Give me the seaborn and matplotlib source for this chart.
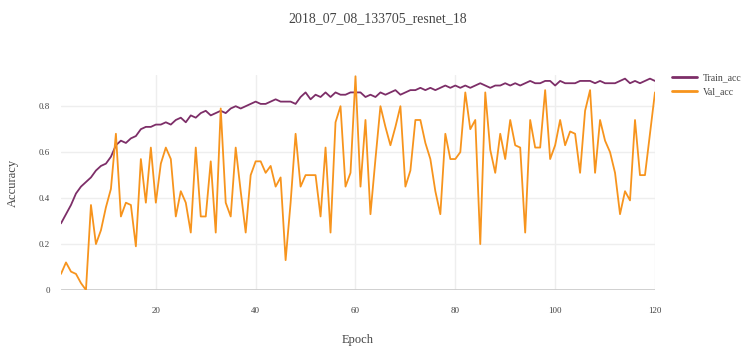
import numpy as np
import pandas as pd
import matplotlib
matplotlib.use("Agg")
import matplotlib.pyplot as plt
import seaborn as sns
from matplotlib.lines import Line2D

epochs = list(range(1, 121))

train_acc = [
    0.29, 0.33, 0.37, 0.42, 0.45, 0.47, 0.49, 0.52, 0.54, 0.55,
    0.58, 0.63, 0.65, 0.64, 0.66, 0.67, 0.70, 0.71, 0.71, 0.72,
    0.72, 0.73, 0.72, 0.74, 0.75, 0.73, 0.76, 0.75, 0.77, 0.78,
    0.76, 0.77, 0.78, 0.77, 0.79, 0.80, 0.79, 0.80, 0.81, 0.82,
    0.81, 0.81, 0.82, 0.83, 0.82, 0.82, 0.82, 0.81, 0.84, 0.86,
    0.83, 0.85, 0.84, 0.86, 0.84, 0.86, 0.85, 0.85, 0.86, 0.86,
    0.86, 0.84, 0.85, 0.84, 0.86, 0.85, 0.86, 0.87, 0.85, 0.86,
    0.87, 0.87, 0.88, 0.87, 0.88, 0.87, 0.88, 0.89, 0.88, 0.89,
    0.88, 0.89, 0.88, 0.89, 0.90, 0.89, 0.88, 0.89, 0.89, 0.90,
    0.89, 0.90, 0.89, 0.90, 0.91, 0.90, 0.90, 0.91, 0.91, 0.89,
    0.91, 0.90, 0.90, 0.90, 0.91, 0.91, 0.91, 0.90, 0.91, 0.90,
    0.90, 0.90, 0.91, 0.92, 0.90, 0.91, 0.90, 0.91, 0.92, 0.91,
]

val_acc = [
    0.07, 0.12, 0.08, 0.07, 0.03, 0.00, 0.37, 0.20, 0.26, 0.36,
    0.44, 0.68, 0.32, 0.38, 0.37, 0.19, 0.57, 0.38, 0.62, 0.38,
    0.55, 0.62, 0.57, 0.32, 0.43, 0.38, 0.25, 0.62, 0.32, 0.32,
    0.56, 0.25, 0.79, 0.38, 0.32, 0.62, 0.43, 0.25, 0.50, 0.56,
    0.56, 0.51, 0.54, 0.45, 0.49, 0.13, 0.38, 0.68, 0.45, 0.50,
    0.50, 0.50, 0.32, 0.62, 0.25, 0.73, 0.80, 0.45, 0.51, 0.93,
    0.45, 0.74, 0.33, 0.57, 0.80, 0.71, 0.63, 0.71, 0.80, 0.45,
    0.52, 0.74, 0.74, 0.64, 0.57, 0.43, 0.33, 0.68, 0.57, 0.57,
    0.60, 0.86, 0.70, 0.74, 0.20, 0.86, 0.61, 0.51, 0.68, 0.57,
    0.74, 0.63, 0.62, 0.25, 0.74, 0.62, 0.62, 0.87, 0.57, 0.63,
    0.74, 0.63, 0.69, 0.68, 0.51, 0.78, 0.87, 0.51, 0.74, 0.65,
    0.60, 0.51, 0.33, 0.43, 0.39, 0.74, 0.50, 0.50, 0.68, 0.86,
]

series_names = ["Train_acc", "Val_acc"]
colors = ["#7d2e68", "#f7941d"]
x_ticks = [20, 40, 60, 80, 100, 120]
y_ticks = [0, 0.2, 0.4, 0.6, 0.8]
y_tick_labels = ["0", "0.2", "0.4", "0.6", "0.8"]

df = pd.DataFrame({
    "Epoch": epochs * 2,
    "Accuracy": train_acc + val_acc,
    "series": [series_names[0]] * len(epochs) + [series_names[1]] * len(epochs),
})

sns.set_theme(style="white")
plt.rcParams["font.family"] = ["Liberation Serif", "DejaVu Serif"]

fig = plt.figure(figsize=(7.55, 3.51), dpi=100)
ax = fig.add_axes([0.0808, 0.1738, 0.7867, 0.612])

sns.lineplot(data=df, x="Epoch", y="Accuracy", hue="series",
             palette=dict(zip(series_names, colors)), linewidth=1.3,
             ax=ax, legend=False)

ax.set_xlim(1, 120)
ax.set_ylim(0, 0.935)
ax.set_xticks(x_ticks)
ax.set_yticks(y_ticks)
ax.set_yticklabels(y_tick_labels)
ax.grid(True, color="#eeeeee", linewidth=1)
ax.axhline(0, color="#cccccc", linewidth=2, zorder=1)
for s in ax.spines.values():
    s.set_visible(False)
ax.tick_params(axis="both", length=0, labelsize=6.5, labelcolor="#444444", pad=8)
ax.tick_params(axis="x", pad=12)
ax.set_xlabel("Epoch", fontsize=9, color="#444444", labelpad=14)
ax.set_ylabel("Accuracy", fontsize=9, color="#444444", labelpad=14)

fig.suptitle("2018_07_08_133705_resnet_18", x=0.5, y=0.965, fontsize=10, color="#444444")

handles = [Line2D([0], [0], color=c, linewidth=2) for c in colors]
fig.legend(handles, series_names, loc="upper left", bbox_to_anchor=(0.878, 0.815),
           frameon=False, fontsize=7, labelcolor="#444444", handlelength=2.6,
           handletextpad=0.6, labelspacing=0.5)

fig.savefig("out.png", dpi=100, facecolor="white")
